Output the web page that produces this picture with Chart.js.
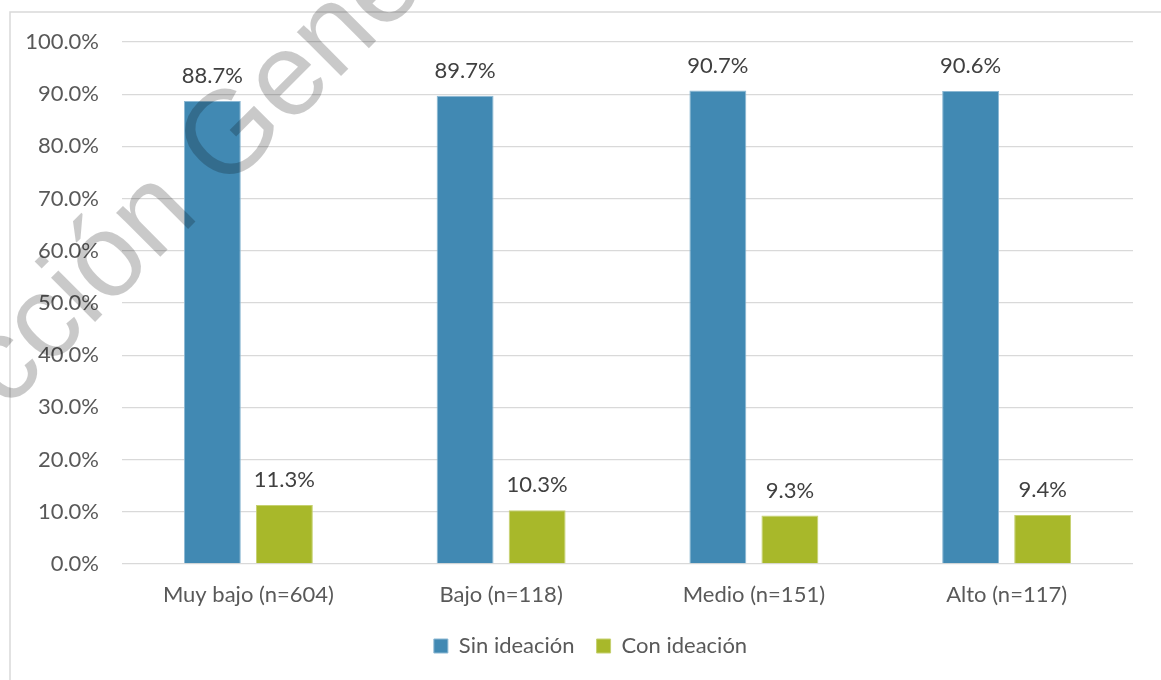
<!DOCTYPE html>
<html>
<head>
<meta charset="utf-8">
<script src="https://cdn.jsdelivr.net/npm/chart.js@4.4.1/dist/chart.umd.min.js"></script>
<style>
  html, body { margin: 0; padding: 0; background: #fff; }
  #grafico { display: block; }
</style>
</head>
<body>
<canvas id="grafico" width="1161" height="680"></canvas>
<script>
// Datos del gráfico
const categorias = ["Muy bajo (n=604)", "Bajo (n=118)", "Medio (n=151)", "Alto (n=117)"];
const sinIdeacion = [88.7, 89.7, 90.7, 90.6];
const conIdeacion = [11.3, 10.3, 9.3, 9.4];
const ticksY = [0, 10, 20, 30, 40, 50, 60, 70, 80, 90, 100];

const AZUL = "#4189b3";
const VERDE = "#a8b82a";

Chart.defaults.font.family = "Lato, 'Noto Sans', sans-serif";

// Marco exterior del área del gráfico
const marco = {
  id: "marco",
  beforeDraw(chart) {
    const { ctx } = chart;
    ctx.save();
    ctx.strokeStyle = "#d9d9d9";
    ctx.lineWidth = 1.5;
    ctx.beginPath();
    ctx.moveTo(1161, 12);
    ctx.lineTo(10, 12);
    ctx.lineTo(10, 680);
    ctx.stroke();
    ctx.restore();
  }
};

// La leyenda se centra un poco más a la derecha, bajo el área de barras
const leyendaDesplazada = {
  id: "leyendaDesplazada",
  afterLayout(chart) {
    const lg = chart.legend;
    if (lg) {
      lg.left += 24;
      lg.right += 24;
    }
  }
};

// Porcentaje encima de cada barra
const etiquetasValor = {
  id: "etiquetasValor",
  afterDatasetsDraw(chart) {
    const { ctx } = chart;
    ctx.save();
    ctx.font = "22px Lato";
    ctx.fillStyle = "#404040";
    ctx.textAlign = "center";
    ctx.textBaseline = "middle";
    chart.data.datasets.forEach((ds, i) => {
      chart.getDatasetMeta(i).data.forEach((bar, j) => {
        ctx.fillText(ds.data[j].toFixed(1) + "%", bar.x, bar.y - 25);
      });
    });
    ctx.restore();
  }
};

// Marca de agua diagonal
const marcaAgua = {
  id: "marcaAgua",
  afterDraw(chart) {
    const { ctx } = chart;
    ctx.save();
    ctx.font = "118px 'Liberation Sans'";
    ctx.fillStyle = "rgba(0, 0, 0, 0.21)";
    const antes = ctx.measureText("Dirección ").width;
    ctx.translate(201, 170);
    ctx.rotate(-Math.PI / 4);
    ctx.fillText("Dirección General", -antes, 0);
    ctx.restore();
  }
};

const ctx = document.getElementById("grafico").getContext("2d");
new Chart(ctx, {
  type: "bar",
  data: {
    labels: categorias,
    datasets: [
      {
        label: "Sin ideación",
        data: sinIdeacion,
        backgroundColor: AZUL,
        borderColor: "#8cb8d3",
        borderWidth: 1,
        categoryPercentage: 0.57,
        barPercentage: 0.79
      },
      {
        label: "Con ideación",
        data: conIdeacion,
        backgroundColor: VERDE,
        borderColor: "#c6d170",
        borderWidth: 1,
        categoryPercentage: 0.57,
        barPercentage: 0.79
      }
    ]
  },
  options: {
    responsive: false,
    animation: false,
    layout: { padding: { top: 42, right: 28, bottom: 13, left: 0 } },
    scales: {
      x: {
        grid: { display: false },
        border: { display: false },
        ticks: { color: "#595959", font: { size: 22 }, padding: 10 },
        afterFit: (s) => { s.height = 49; }
      },
      y: {
        min: 0,
        max: 100,
        afterBuildTicks: (axis) => { axis.ticks = ticksY.map((v) => ({ value: v })); },
        grid: { color: "#d9d9d9", lineWidth: 1.3, drawTicks: false },
        border: { display: false },
        ticks: {
          color: "#595959",
          font: { size: 22 },
          padding: 23,
          callback: (v) => v.toFixed(1) + "%"
        },
        afterFit: (s) => { s.width = 122; }
      }
    },
    plugins: {
      legend: {
        position: "bottom",
        labels: {
          color: "#595959",
          font: { size: 22 },
          boxWidth: 14,
          boxHeight: 14,
          padding: 22
        }
      },
      tooltip: { enabled: false }
    }
  },
  plugins: [marco, leyendaDesplazada, etiquetasValor, marcaAgua]
});
</script>
</body>
</html>
